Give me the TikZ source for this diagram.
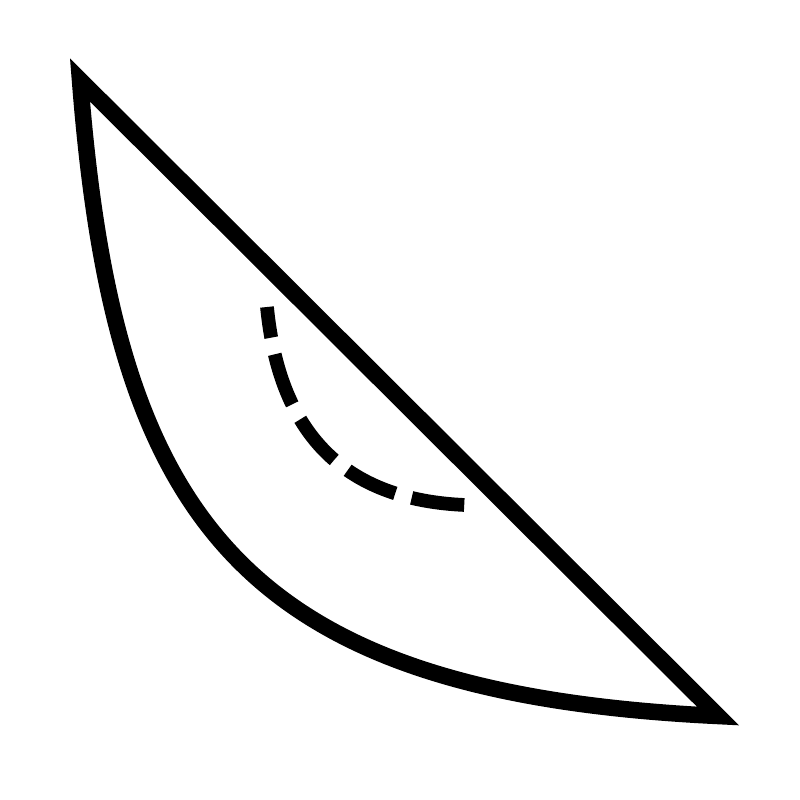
\documentclass[tikz,border=0pt]{standalone}
\begin{document}
\begin{tikzpicture}[x=0.01cm,y=-0.01cm,
  outline/.style={line width=4.7pt,line join=miter,miter limit=10},
  dashline/.style={line width=3.9pt,dash pattern=on 15.1pt off 4.84pt,dash phase=6.3pt}]
\useasboundingbox (0,0) rectangle (800,800);
\coordinate (A) at (80,80);
\coordinate (B) at (718,716);
\coordinate (C) at (267,307);
\coordinate (D) at (465,505);
\draw[outline] (A) -- (B) .. controls (240,693) and (114,520) .. (A) -- cycle;
\draw[dashline] (C) .. controls (280,440) and (350,500) .. (D);
\end{tikzpicture}
\end{document}
